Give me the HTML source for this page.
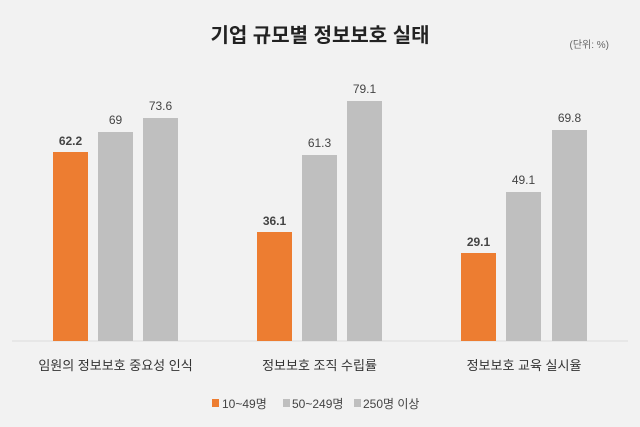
<!DOCTYPE html>
<html><head><meta charset="utf-8"><style>
body{margin:0;background:#f2f2f2;}
svg{display:block;font-family:"Liberation Sans","Noto Sans CJK KR",sans-serif;}
</style></head><body>
<svg width="640" height="427" viewBox="0 0 640 427">
<rect width="640" height="427" fill="#f2f2f2"/>
<text x="320" y="42" text-anchor="middle" font-size="20" font-weight="bold" fill="#222">기업 규모별 정보보호 실태</text>
<text x="609" y="48" text-anchor="end" font-size="10" fill="#666">(단위: %)</text>
<line x1="12" y1="341" x2="628" y2="341" stroke="#dcdcdc" stroke-width="1"/>
<g fill="#ed7d31">
<rect x="53" y="152" width="35" height="189"/>
<rect x="257" y="232" width="35" height="109"/>
<rect x="461" y="253" width="35" height="88"/>
</g>
<g fill="#bfbfbf">
<rect x="98" y="132" width="35" height="209"/>
<rect x="143" y="118" width="35" height="223"/>
<rect x="302" y="155" width="35" height="186"/>
<rect x="347" y="101" width="35" height="240"/>
<rect x="506" y="192" width="35" height="149"/>
<rect x="552" y="130" width="35" height="211"/>
</g>
<g font-size="12" fill="#444" text-anchor="middle">
<text x="70.5" y="145" font-weight="bold">62.2</text>
<text x="115.5" y="124">69</text>
<text x="160.5" y="110">73.6</text>
<text x="274.5" y="225" font-weight="bold">36.1</text>
<text x="319.5" y="147">61.3</text>
<text x="364.5" y="93">79.1</text>
<text x="478.5" y="246" font-weight="bold">29.1</text>
<text x="523.5" y="184">49.1</text>
<text x="569.5" y="122">69.8</text>
</g>
<g font-size="13" fill="#333" text-anchor="middle">
<text x="115.5" y="370">임원의 정보보호 중요성 인식</text>
<text x="319.5" y="370">정보보호 조직 수립률</text>
<text x="524" y="370">정보보호 교육 실시율</text>
</g>
<g font-size="12" fill="#444">
<rect x="212" y="399" width="7" height="8" fill="#ed7d31"/>
<text x="222" y="408">10~49명</text>
<rect x="283" y="399" width="7" height="8" fill="#bfbfbf"/>
<text x="292" y="408">50~249명</text>
<rect x="354" y="399" width="7" height="8" fill="#bfbfbf"/>
<text x="363" y="408">250명 이상</text>
</g>
</svg>
</body></html>
